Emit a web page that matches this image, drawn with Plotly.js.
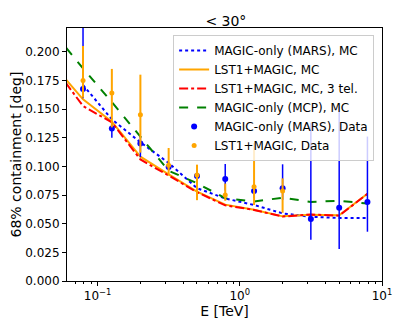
<!DOCTYPE html>
<html>
<head>
<meta charset="utf-8">
<script src="https://cdn.plot.ly/plotly-3.0.1.min.js"></script>
<style>
  body { margin: 0; }
  #psf-plot { width: 407px; height: 326px; }
</style>
</head>
<body>
<div id="psf-plot"></div>
<script>
// energy bins [TeV]
var mcEnergy = [0.05, 0.079, 0.126, 0.2, 0.316, 0.5, 0.79, 1.26, 2.0, 3.16, 5.0, 7.9];
var dataEnergy = [0.079, 0.126, 0.2, 0.316, 0.5, 0.79, 1.26, 2.0, 3.16, 5.0, 7.9];
var lstEnergy = [0.079, 0.126, 0.2, 0.316, 0.5, 0.79, 1.26, 2.0];

// MC curves
var marsMC = [0.171, 0.141, 0.121, 0.103, 0.081, 0.072, 0.0663, 0.059, 0.056, 0.055, 0.055];
var lstMC = [0.1869, 0.1585, 0.139, 0.1085, 0.093, 0.078, 0.0666, 0.0622, 0.0564, 0.0578, 0.0573, 0.0761];
var lst3telMC = [0.1857, 0.1526, 0.1384, 0.106, 0.092, 0.0775, 0.066, 0.062, 0.0562, 0.058, 0.057, 0.076];
var mcpMC = [0.2155, 0.1855, 0.156, 0.126, 0.0962, 0.0853, 0.0722, 0.0693, 0.0727, 0.069, 0.070, 0.0676];

// data points
var marsData = [0.1675, 0.133, 0.120, 0.0994, 0.0916, 0.089, 0.0785, 0.0808, 0.054, 0.064, 0.069];
var marsErrUp = [0.06, 0.005, 0.006, 0.003, 0.004, 0.013, 0.006, 0.021, 0.084, 0.088, 0.057];
var marsErrDown = [0.008, 0.008, 0.012, 0.003, 0.004, 0.010, 0.006, 0.010, 0.018, 0.036, 0.026];

var lstData = [0.175, 0.164, 0.145, 0.101, 0.0925, 0.075, 0.0823, 0.0785];
var lstErrUp = [0.030, 0.021, 0.035, 0.015, 0.009, 0.010, 0.038, 0.011];
var lstErrDown = [0.015, 0.030, 0.033, 0.009, 0.022, 0.005, 0.016, 0.019];

var traces = [
  {x: dataEnergy, y: marsMC, mode: "lines", name: "MAGIC-only (MARS), MC",
   line: {color: "blue", width: 2, dash: "dot"}},
  {x: mcEnergy, y: lstMC, mode: "lines", name: "LST1+MAGIC, MC",
   line: {color: "orange", width: 2}},
  {x: mcEnergy, y: lst3telMC, mode: "lines", name: "LST1+MAGIC, MC, 3 tel.",
   line: {color: "red", width: 2, dash: "dashdot"}},
  {x: mcEnergy, y: mcpMC, mode: "lines", name: "MAGIC-only (MCP), MC",
   line: {color: "green", width: 2, dash: "dash"}},
  {x: dataEnergy, y: marsData, mode: "markers", name: "MAGIC-only (MARS), Data",
   marker: {color: "blue", size: 6},
   error_y: {type: "data", array: marsErrUp, arrayminus: marsErrDown, color: "blue", thickness: 1.5, width: 0}},
  {x: lstEnergy, y: lstData, mode: "markers", name: "LST1+MAGIC, Data",
   marker: {color: "orange", size: 5},
   error_y: {type: "data", array: lstErrUp, arrayminus: lstErrDown, color: "orange", thickness: 2, width: 0}}
];

var minorVals = [0.07, 0.08, 0.09, 0.2, 0.3, 0.4, 0.5, 0.6, 0.7, 0.8, 0.9,
                 2, 3, 4, 5, 6, 7, 8, 9];

var layout = {
  width: 407, height: 326,
  margin: {l: 67, r: 25, t: 28, b: 45},
  paper_bgcolor: "white", plot_bgcolor: "white",
  font: {family: "DejaVu Sans", size: 12, color: "black"},
  showlegend: true,
  title: {text: "&lt; 30°", font: {size: 14}, x: 0.555, xanchor: "center", y: 0.935, yanchor: "middle"},
  xaxis: {
    type: "log", range: [-1.215, 1.0],
    title: {text: "E [TeV]", standoff: 1},
    tickmode: "array", tickvals: [0.1, 1, 10],
    ticktext: ["10<sup>−1</sup>", "10<sup>0</sup>", "10<sup>1</sup>"],
    ticks: "outside", ticklen: 4, tickcolor: "black",
    minor: {tickmode: "array", tickvals: minorVals, ticks: "outside", ticklen: 2, tickcolor: "black"},
    showgrid: false, zeroline: false,
    showline: true, mirror: true, linecolor: "black", linewidth: 1
  },
  yaxis: {
    range: [0, 0.2207],
    title: {text: "68% containment [deg]", standoff: 0},
    tickmode: "linear", tick0: 0, dtick: 0.025, tickformat: ".3f",
    ticks: "outside", ticklen: 4, tickcolor: "black",
    showgrid: false, zeroline: false,
    showline: true, mirror: true, linecolor: "black", linewidth: 1
  },
  legend: {
    x: 0.975, xanchor: "right", y: 0.972, yanchor: "top",
    bgcolor: "rgba(255,255,255,0.8)", bordercolor: "#cccccc", borderwidth: 1,
    font: {size: 12}, itemwidth: 30, tracegroupgap: 0
  }
};

Plotly.newPlot("psf-plot", traces, layout, {staticPlot: true});
</script>
</body>
</html>
